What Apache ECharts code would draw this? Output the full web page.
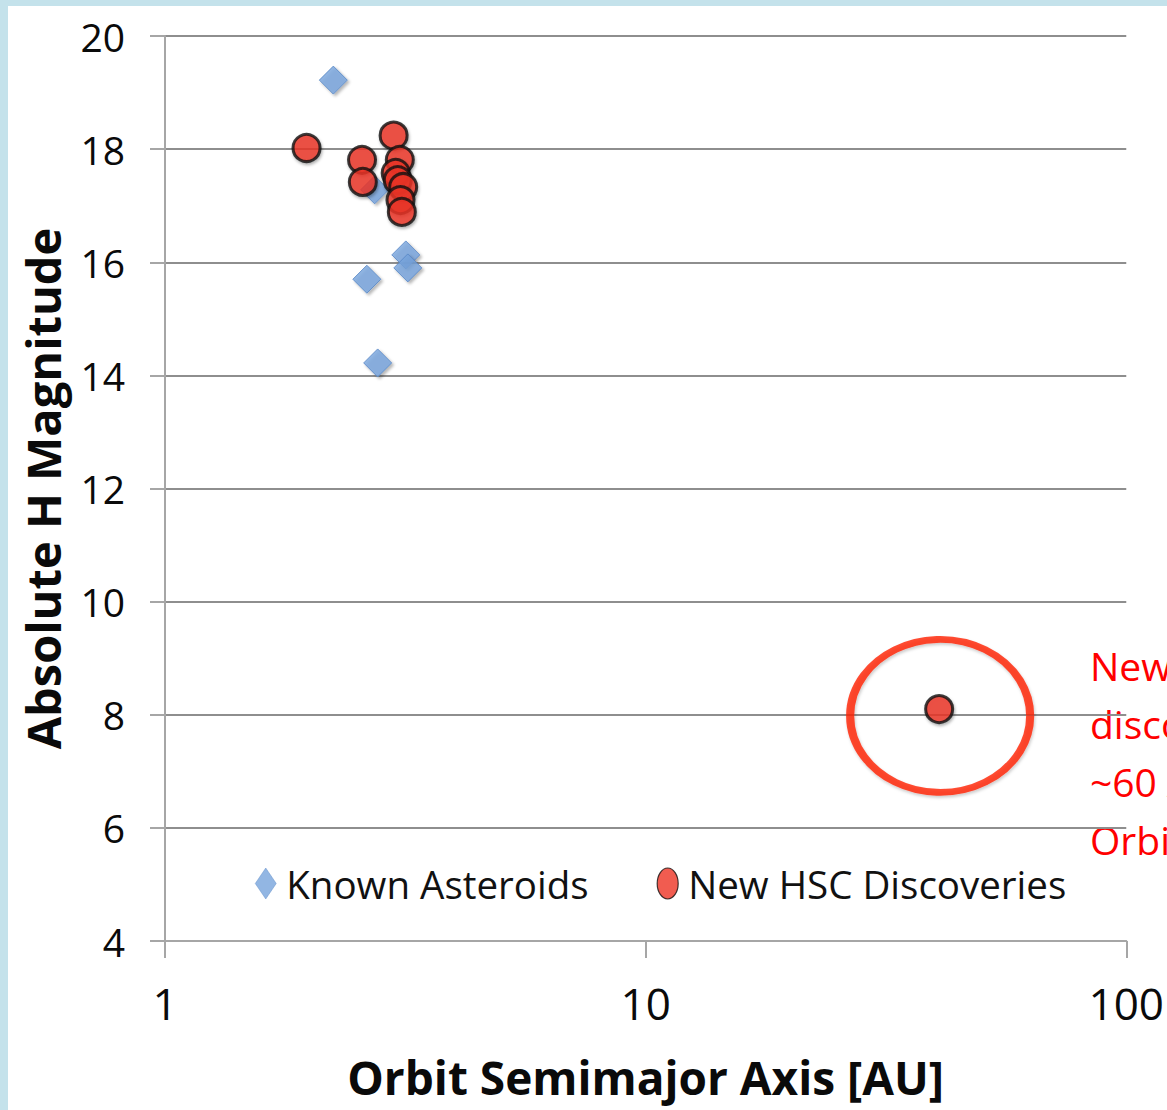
<!DOCTYPE html>
<html>
<head>
<meta charset="utf-8">
<script src="https://cdn.jsdelivr.net/npm/echarts@6/dist/echarts.min.js"></script>
<style>
  html, body { margin: 0; padding: 0; background: #c4e2eb; }
  body { width: 1167px; height: 1110px; position: relative; overflow: hidden; }
  #chart { position: absolute; left: 8px; top: 6px; width: 1159px; height: 1104px; background: #ffffff; }
</style>
</head>
<body>
<div id="chart"></div>
<script>
// Known asteroids: semimajor axis [AU] and absolute H magnitude
const knownA = [2.24, 3.17, 3.20, 2.63, 2.77, 2.73];
const knownH = [19.22, 16.13, 15.90, 15.70, 14.22, 17.28];

// New HSC discoveries
const newA = [1.97, 2.99, 2.57, 2.58, 3.08, 3.02, 3.05, 3.13, 3.09, 3.11, 40.8];
const newH = [18.02, 18.24, 17.81, 17.42, 17.81, 17.58, 17.45, 17.33, 17.10, 16.89, 8.10];

// Highlight ring around the distant object
const ringA = [41];
const ringH = [7.98];

const xTicks = [1, 10, 100];
const yTicks = [4, 6, 8, 10, 12, 14, 16, 18, 20];

const seriesNames = ['Known Asteroids', 'New HSC Discoveries'];
const noteLines = ['New TNO', 'discovery', '~60 AU', 'Orbit'];

const FONT = '"Open Sans", "Noto Sans", sans-serif';
const pairs = (xs, ys) => xs.map((x, i) => [x, ys[i]]);

// Tall legend keys: a narrow diamond and an upright ellipse
const ICON_DIAMOND = 'path://M8.5,0 L17,12.5 L8.5,25 L0,12.5 Z';
const ICON_ELLIPSE = 'path://M0,12.5 A8.5,12.5 0 1 0 17,12.5 A8.5,12.5 0 1 0 0,12.5 Z';

const chart = echarts.init(document.getElementById('chart'), null, { renderer: 'svg' });

chart.setOption({
  animation: false,
  backgroundColor: '#ffffff',
  textStyle: { fontFamily: FONT },
  grid: { left: 157, right: 40, top: 30, bottom: 169, containLabel: false },
  legend: {
    data: [
      { name: seriesNames[0], icon: ICON_DIAMOND, itemStyle: { borderWidth: 0.5 } },
      { name: seriesNames[1], icon: ICON_ELLIPSE, itemStyle: { borderWidth: 1.2 } }
    ],
    left: 247,
    top: 858,
    padding: 0,
    itemWidth: 21,
    itemHeight: 31,
    symbolKeepAspect: false,
    itemGap: 68,
    formatter: '{t|{name}}',
    textStyle: {
      fontFamily: FONT,
      fontSize: 38.5,
      color: '#111111',
      rich: { t: { fontFamily: FONT, fontSize: 38.5, color: '#111111', padding: [0, 0, 0, 5] } }
    }
  },
  xAxis: {
    type: 'log',
    logBase: 10,
    min: xTicks[0],
    max: xTicks[xTicks.length - 1],
    name: 'Orbit Semimajor Axis [AU]',
    nameLocation: 'middle',
    nameGap: 113,
    nameTextStyle: { fontFamily: FONT, fontSize: 46, fontWeight: 'bold', color: '#0a0a0a' },
    axisLine: { show: true, lineStyle: { color: '#a6a6a6', width: 2 } },
    axisTick: { show: true, inside: false, length: 17, lineStyle: { color: '#a6a6a6', width: 2 } },
    minorTick: { show: false },
    splitLine: { show: false },
    axisLabel: {
      margin: 40,
      fontFamily: FONT,
      fontSize: 44,
      color: '#0a0a0a',
      formatter: v => String(Math.round(v))
    }
  },
  yAxis: {
    type: 'value',
    min: yTicks[0],
    max: yTicks[yTicks.length - 1],
    interval: 2,
    name: 'Absolute H Magnitude',
    nameLocation: 'middle',
    nameGap: 99,
    nameRotate: 90,
    nameTextStyle: { fontFamily: FONT, fontSize: 47, fontWeight: 'bold', color: '#0a0a0a' },
    axisLine: { show: true, lineStyle: { color: '#a6a6a6', width: 2 } },
    axisTick: { show: true, inside: false, length: 15, lineStyle: { color: '#a6a6a6', width: 2 } },
    splitLine: { show: true, lineStyle: { color: '#8e8e8e', width: 2 } },
    axisLabel: { margin: 40, fontFamily: FONT, fontSize: 39, color: '#0a0a0a' }
  },
  series: [
    {
      name: seriesNames[0],
      type: 'scatter',
      symbol: 'diamond',
      symbolSize: 28,
      data: pairs(knownA, knownH),
      itemStyle: {
        color: '#77a4dc',
        borderColor: '#5585c4',
        borderWidth: 1,
        shadowBlur: 3,
        shadowOffsetX: 2,
        shadowOffsetY: 2,
        shadowColor: 'rgba(0,0,0,0.35)'
      },
      z: 3
    },
    {
      name: seriesNames[1],
      type: 'scatter',
      symbol: 'circle',
      symbolSize: 27,
      data: pairs(newA, newH),
      itemStyle: {
        color: '#ee3324',
        borderColor: '#111111',
        borderWidth: 3,
        shadowBlur: 3,
        shadowOffsetX: 1,
        shadowOffsetY: 2,
        shadowColor: 'rgba(0,0,0,0.35)'
      },
      z: 4
    },
    {
      name: 'ring',
      type: 'scatter',
      symbol: 'circle',
      symbolSize: [180, 153],
      silent: true,
      data: pairs(ringA, ringH),
      itemStyle: {
        color: 'rgba(0,0,0,0)',
        borderColor: '#ff2000',
        borderWidth: 7.5,
        shadowBlur: 3,
        shadowOffsetX: 1,
        shadowOffsetY: 2,
        shadowColor: 'rgba(0,0,0,0.25)'
      },
      z: 5
    }
  ],
  graphic: [
    {
      type: 'text',
      left: 1082,
      top: 630,
      style: {
        text: noteLines.join('\n'),
        fill: '#ff0000',
        font: '39px ' + FONT,
        lineHeight: 58
      }
    }
  ]
});
</script>
</body>
</html>
